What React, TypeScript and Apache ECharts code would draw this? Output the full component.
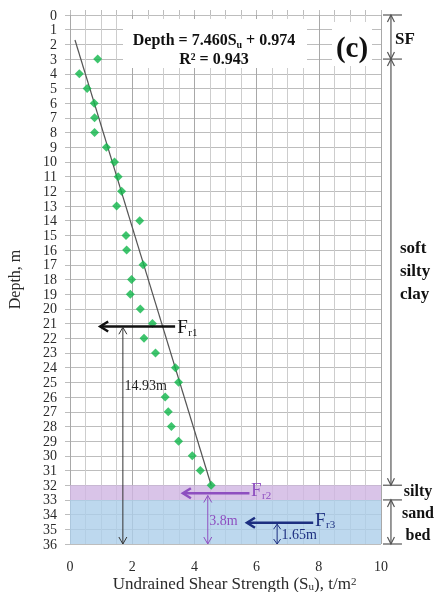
import React, { useEffect, useRef } from 'react';
import * as echarts from 'echarts';

// Depth (m) and undrained shear strength Su (t/m²)
const depths = [3, 4, 5, 6, 7, 8, 9, 10, 11, 12, 13, 14, 15, 16, 17, 18, 19, 20, 21, 22, 23, 24, 25, 26, 27, 28, 29, 30, 31, 32];
const suValues = [0.89, 0.30, 0.55, 0.78, 0.79, 0.79, 1.17, 1.43, 1.55, 1.66, 1.50, 2.24, 1.80, 1.82, 2.35, 1.98, 1.94, 2.26, 2.65, 2.38, 2.75, 3.39, 3.49, 3.06, 3.16, 3.26, 3.49, 3.93, 4.19, 4.54];
// Trend line endpoints as drawn
const trendSu = [0.16, 4.54];
const trendDepth = [1.7, 32];
// Soil layers
const layerBounds = [0, 3, 32, 33, 36];
const purpleBand = [32, 33];
const blueBand = [33, 36];

const serif = '"Liberation Serif", "Times New Roman", serif';

function arrowEls(a: number[], b: number[], color: string, width: number, both: boolean, head = 7, half = 4) {
  const els: any[] = [];
  els.push({ type: 'line', z: 100, silent: true, shape: { x1: a[0], y1: a[1], x2: b[0], y2: b[1] }, style: { stroke: color, lineWidth: width } });
  const addHead = (tip: number[], from: number[]) => {
    const dx = tip[0] - from[0], dy = tip[1] - from[1];
    const L = Math.hypot(dx, dy) || 1;
    const ux = dx / L, uy = dy / L, nx = -uy, ny = ux;
    els.push({
      type: 'polyline', z: 100, silent: true,
      shape: { points: [[tip[0] - ux * head + nx * half, tip[1] - uy * head + ny * half], [tip[0], tip[1]], [tip[0] - ux * head - nx * half, tip[1] - uy * head - ny * half]] },
      style: { stroke: color, lineWidth: width, fill: null },
    });
  };
  addHead(b, a);
  if (both) addHead(a, b);
  return els;
}

function frLabel(x: number, y: number, sub: string, color: string) {
  return [
    { type: 'text', z: 101, silent: true, x, y, style: { text: 'F', fill: color, font: `19px ${serif}`, align: 'left', verticalAlign: 'middle' } },
    { type: 'text', z: 101, silent: true, x: x + 11, y: y + 5, style: { text: sub, fill: color, font: `11px ${serif}`, align: 'left', verticalAlign: 'middle' } },
  ];
}

export default function App() {
  const ref = useRef<HTMLDivElement>(null);
  useEffect(() => {
    const chart = echarts.init(ref.current!, null, { renderer: 'svg' });
    const points = depths.map((d, i) => [suValues[i], d]);
    chart.setOption({
      animation: false,
      grid: { left: 70, right: 55, top: 15, bottom: 48, outerBoundsMode: 'none', containLabel: false },
      xAxis: [
        {
          type: 'value', min: 0, max: 10, interval: 2, position: 'bottom',
          axisLine: { show: false }, axisTick: { show: false },
          axisLabel: { fontFamily: serif, fontSize: 14, color: '#2a2a2a', margin: 15 },
          splitLine: { show: true, lineStyle: { color: '#a8a8a8', width: 1 } },
          minorTick: { show: false, splitNumber: 4 },
          minorSplitLine: { show: true, lineStyle: { color: '#cdcdcd', width: 1 } },
          name: '{a|Undrained Shear Strength (S}{s|u}{a|), t/m}{p|2}',
          nameLocation: 'middle', nameGap: 31, nameMoveOverlap: false,
          nameTextStyle: {
            padding: [0, 0, 0, 18],
            rich: {
              a: { fontFamily: serif, fontSize: 17, color: '#2a2a2a', lineHeight: 16 },
              s: { fontFamily: serif, fontSize: 11, color: '#2a2a2a', lineHeight: 8, verticalAlign: 'bottom', padding: [8, 0, 0, 0] },
              p: { fontFamily: serif, fontSize: 11, color: '#2a2a2a', lineHeight: 8, verticalAlign: 'top', padding: [0, 0, 8, 0] },
            },
          },
        },
        {
          type: 'value', min: 0, max: 10, interval: 0.5, position: 'top',
          axisLine: { show: false }, axisLabel: { show: false }, splitLine: { show: false },
          axisTick: { show: true, length: 5, lineStyle: { color: '#bdbdbd' } },
        },
      ],
      yAxis: {
        type: 'value', inverse: true, min: 0, max: 36, interval: 1,
        axisLine: { show: false },
        axisTick: { show: true, length: 5, lineStyle: { color: '#bdbdbd' } },
        axisLabel: { fontFamily: serif, fontSize: 14, color: '#2a2a2a', margin: 13 },
        splitLine: { show: true, lineStyle: { color: '#bdbdbd', width: 1 } },
        name: 'Depth, m', nameLocation: 'middle', nameGap: 48, nameMoveOverlap: false,
        nameTextStyle: { fontFamily: serif, fontSize: 16, color: '#2a2a2a' },
      },
      series: [
        {
          type: 'line', data: trendSu.map((s, i) => [s, trendDepth[i]]), showSymbol: false, symbol: 'none',
          lineStyle: { color: '#555', width: 1.2 }, z: 3,
        },
        {
          type: 'scatter', data: points, symbol: 'diamond', symbolSize: 9,
          itemStyle: { color: '#0fb64a' }, z: 4,
          markArea: {
            silent: true,
            data: [
              [{ coord: [0, purpleBand[0]], itemStyle: { color: 'rgba(207,181,226,0.8)' } }, { coord: [10, purpleBand[1]] }],
              [{ coord: [0, blueBand[0]], itemStyle: { color: 'rgba(172,206,234,0.8)' } }, { coord: [10, blueBand[1]] }],
            ],
          },
        },
      ],
    });

    const P = (x: number, y: number) => chart.convertToPixel({ gridIndex: 0 }, [x, y]) as number[];
    const els: any[] = [];
    // equation box
    els.push({ type: 'rect', z: 99, silent: true, shape: { x: 123, y: 19, width: 184, height: 49 }, style: { fill: '#fff' } });
    els.push({
      type: 'text', z: 101, silent: true, x: 214, y: 49,
      style: {
        text: '{b|Depth = 7.460S}{s|u}{b| + 0.974}\n{b|R² = 0.943}', align: 'center', verticalAlign: 'middle',
        rich: {
          b: { fontFamily: serif, fontWeight: 'bold', fontSize: 16, fill: '#111', lineHeight: 19 },
          s: { fontFamily: serif, fontWeight: 'bold', fontSize: 10, fill: '#111', lineHeight: 12, verticalAlign: 'bottom', padding: [7, 0, 0, 0] },
        },
      },
    });
    // (c)
    els.push({ type: 'rect', z: 99, silent: true, shape: { x: 332, y: 22, width: 40, height: 44 }, style: { fill: '#fff' } });
    els.push({ type: 'text', z: 101, silent: true, x: 352, y: 47, style: { text: '(c)', fill: '#111', font: `bold 29px ${serif}`, align: 'center', verticalAlign: 'middle' } });

    // Right-hand layer markers
    const xr = P(10.32, 0)[0];
    const yb = layerBounds.map((d) => P(0, d)[1]);
    yb.forEach((y) => els.push({ type: 'line', z: 100, silent: true, shape: { x1: xr - 8, y1: y, x2: xr + 11, y2: y }, style: { stroke: '#555', lineWidth: 1.2 } }));
    els.push(...arrowEls([xr, yb[0]], [xr, yb[1]], '#555', 1.2, true, 7, 3.5));
    els.push(...arrowEls([xr, yb[1]], [xr, yb[2]], '#555', 1.2, true, 7, 3.5));
    els.push(...arrowEls([xr, yb[3]], [xr, yb[4]], '#555', 1.2, true, 7, 3.5));
    els.push({ type: 'text', z: 101, silent: true, x: 395, y: (yb[0] + yb[1]) / 2 + 1, style: { text: 'SF', fill: '#111', font: `bold 17px ${serif}`, align: 'left', verticalAlign: 'middle' } });
    els.push({ type: 'text', z: 101, silent: true, x: 400, y: 270, style: { text: 'soft\nsilty\nclay', fill: '#111', font: `bold 17px ${serif}`, lineHeight: 23, align: 'left', verticalAlign: 'middle' } });
    els.push({ type: 'text', z: 101, silent: true, x: 418, y: 512, style: { text: 'silty\nsand\nbed', fill: '#111', font: `bold 16px ${serif}`, lineHeight: 22, align: 'center', verticalAlign: 'middle' } });

    // Force arrows
    const black = '#111', purple = '#8e4fc0', navy = '#1d2f80';
    els.push(...arrowEls(P(3.38, 21.2), P(0.97, 21.2), black, 2.5, false, 8, 5));
    els.push(...frLabel(P(3.45, 21.2)[0], P(3.45, 21.2)[1], 'r1', black));
    els.push(...arrowEls(P(1.7, 36), P(1.7, 21.25), '#333', 1, true, 7, 4));
    els.push({ type: 'text', z: 101, silent: true, x: P(1.75, 25.2)[0], y: P(1.75, 25.2)[1], style: { text: '14.93m', fill: '#222', font: `14px ${serif}`, align: 'left', verticalAlign: 'middle' } });

    els.push(...arrowEls(P(5.77, 32.55), P(3.63, 32.55), purple, 2.5, false, 8, 5));
    els.push(...frLabel(P(5.82, 32.3)[0], P(5.82, 32.3)[1], 'r2', purple));
    els.push(...arrowEls(P(4.43, 36), P(4.43, 32.7), purple, 1, true, 7, 4));
    els.push({ type: 'text', z: 101, silent: true, x: P(4.48, 34.4)[0], y: P(4.48, 34.4)[1], style: { text: '3.8m', fill: purple, font: `14px ${serif}`, align: 'left', verticalAlign: 'middle' } });

    els.push(...arrowEls(P(7.82, 34.55), P(5.69, 34.55), navy, 2.5, false, 8, 5));
    els.push(...frLabel(P(7.88, 34.3)[0], P(7.88, 34.3)[1], 'r3', navy));
    els.push(...arrowEls(P(6.66, 36), P(6.66, 34.65), navy, 1, true, 5, 3.5));
    els.push({ type: 'text', z: 101, silent: true, x: P(6.8, 35.35)[0], y: P(6.8, 35.35)[1], style: { text: '1.65m', fill: navy, font: `14px ${serif}`, align: 'left', verticalAlign: 'middle' } });

    chart.setOption({ graphic: { elements: els } });
    return () => chart.dispose();
  }, []);
  return <div ref={ref} style={{ position: 'fixed', left: 0, top: 0, width: 436, height: 592 }} />;
}
